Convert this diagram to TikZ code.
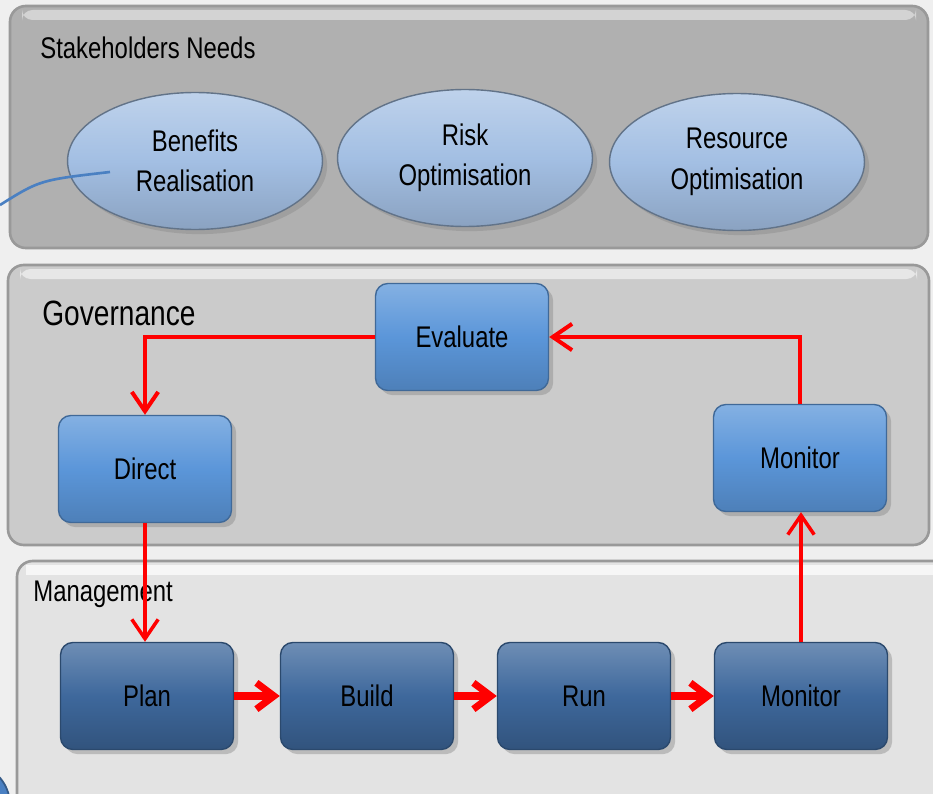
\documentclass[tikz,border=0pt]{standalone}
\usepackage{fontspec}
\setmainfont{Liberation Sans}[FakeStretch=0.8]
\usetikzlibrary{arrows.meta,shadows,shapes.geometric}

\definecolor{backgray}{HTML}{EFEFEF}
\definecolor{stakegray}{HTML}{B0B0B0}
\definecolor{govgray}{HTML}{CBCBCB}
\definecolor{mgmtgray}{HTML}{E3E3E3}
\definecolor{ovalblue}{HTML}{A3BFE3}
\definecolor{govblue}{HTML}{5B96D9}
\definecolor{mgmtblue}{HTML}{3E689C}
\definecolor{linkred}{HTML}{FF0000}
\definecolor{curveblue}{HTML}{4A80C2}

\tikzset{
  panel/.style={rounded corners=9pt, draw=black!40, line width=1.5pt},
  paneltitle/.style={anchor=west, inner sep=0pt, font=\fontsize{17}{20}\selectfont},
  need/.style={ellipse, draw=ovalblue!60!black, line width=0.8pt,
    top color=ovalblue!70!white, bottom color=ovalblue!85!black, middle color=ovalblue,
    minimum width=5.1cm, minimum height=2.74cm, align=center,
    font=\fontsize{17}{23}\selectfont, drop shadow={opacity=0.35}},
  govbox/.style={rectangle, rounded corners=7pt, draw=govblue!70!black, line width=0.8pt,
    top color=govblue!75!white, bottom color=govblue!85!black, middle color=govblue,
    minimum width=3.46cm, minimum height=2.14cm,
    font=\fontsize{17}{20}\selectfont, drop shadow={opacity=0.4}},
  mgmtbox/.style={govbox, draw=mgmtblue!70!black,
    top color=mgmtblue!75!white, bottom color=mgmtblue!80!black, middle color=mgmtblue},
  flow/.style={draw=linkred, line width=2.3pt, -{Straight Barb[length=11pt,width=15pt]}},
  step flow/.style={flow, line width=4pt, -{Straight Barb[length=10pt,width=15pt]}},
}

\begin{document}
\begin{tikzpicture}[x=0.02cm, y=-0.02cm]
    \useasboundingbox (0,0) rectangle (933,794);
    \fill[backgray] (0,0) rectangle (933,794);

    % panels
    \draw[panel, fill=stakegray] (10,6) rectangle (928,248);
    \draw[panel, fill=govgray] (8,265) rectangle (929,545);
    \draw[panel, fill=mgmtgray] (17,561) rectangle (950,810);
    \fill[white, opacity=0.45, rounded corners=6pt] (22,10) rectangle (916,20);
    \fill[white, opacity=0.55, rounded corners=6pt] (20,269) rectangle (917,279);
    \fill[white, opacity=0.7] (26,565) rectangle (933,575);

    \node[paneltitle] (needs) at (40,48) {Stakeholders Needs};
    \node[paneltitle, font=\fontsize{20}{24}\selectfont] (gov) at (42,313) {Governance};
    \node[paneltitle] (mgmt) at (33,594) {Management};

    % stakeholder needs
    \node[need] (benefits) at (195,161) {Benefits\\Realisation};
    \node[need] (risk) at (465,158) {Risk\\Optimisation};
    \node[need] (resource) at (737,162) {Resource\\Optimisation};

    % pieces of the neighbouring figure
    \coordinate (curvestart) at (0,205);
    \draw[curveblue, line width=1.5pt] (curvestart) .. controls (40,180) .. (110,172);
    \fill[curveblue, draw=curveblue!70!black, line width=1pt] (-32,805) circle (42);

    % governance
    \node[govbox] (eval) at (462,337) {Evaluate};
    \node[govbox] (direct) at (145,469) {Direct};
    \node[govbox] (gmon) at (800,458) {Monitor};

    % management
    \node[mgmtbox] (plan) at (147,696) {Plan};
    \node[mgmtbox] (build) at (367,696) {Build};
    \node[mgmtbox] (run) at (584,696) {Run};
    \node[mgmtbox] (mmon) at (801,696) {Monitor};

    \draw[flow] (eval.west) -| (direct.north);
    \draw[flow] (gmon.north) |- (eval.east);
    \draw[flow, line width=2pt] (direct.south) -- (direct.south |- plan.north);
    \draw[flow, line width=2pt] (mmon.north) -- (mmon.north |- gmon.south);
    \draw[step flow] (plan) -- (build);
    \draw[step flow] (build) -- (run);
    \draw[step flow] (run) -- (mmon);
\end{tikzpicture}
\end{document}
